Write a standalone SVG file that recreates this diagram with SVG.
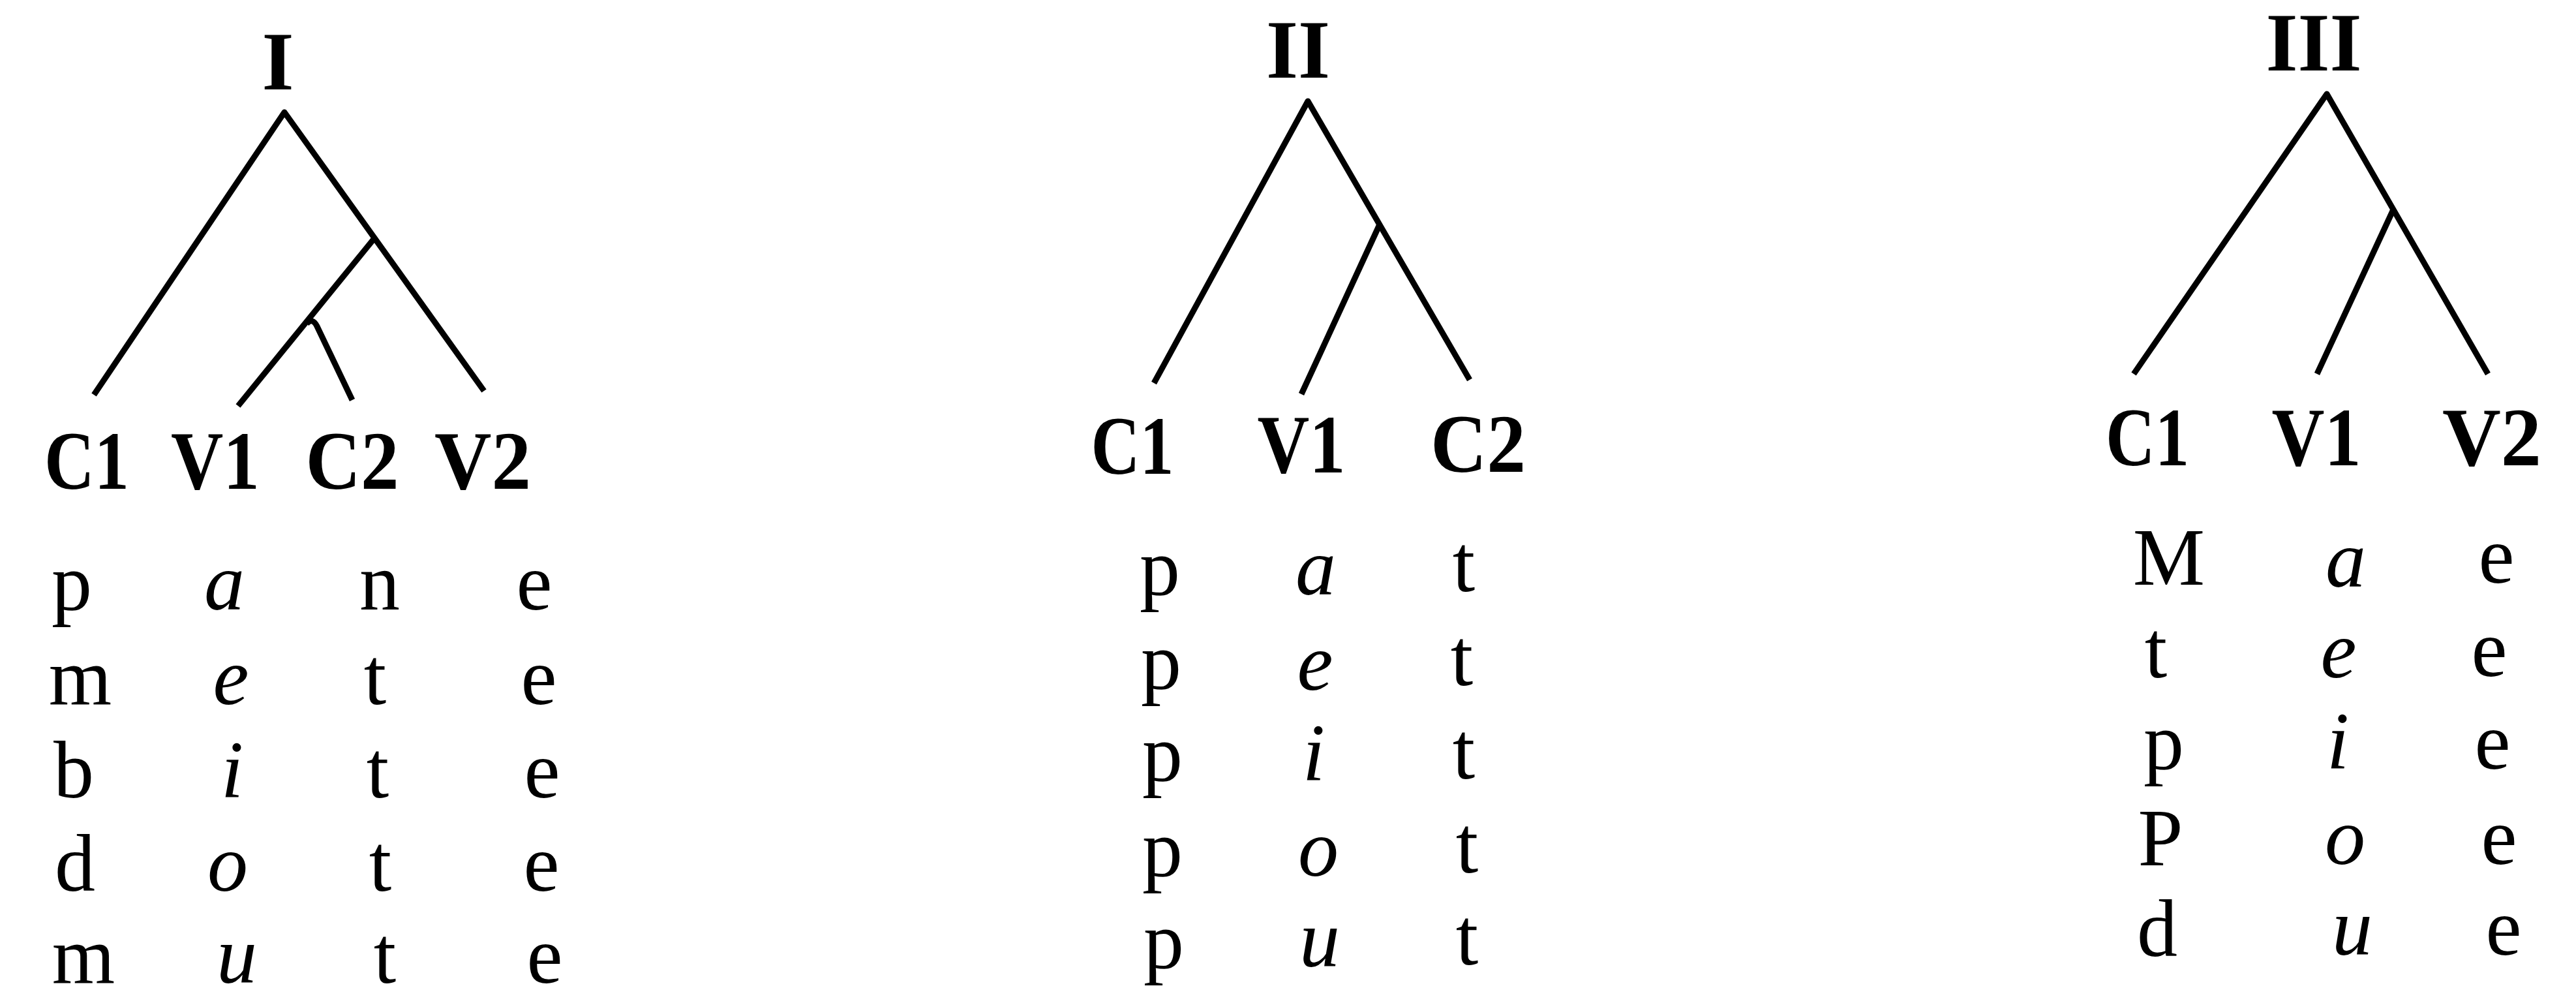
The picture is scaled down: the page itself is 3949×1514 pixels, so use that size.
<svg xmlns="http://www.w3.org/2000/svg" width="3949" height="1514" viewBox="0 0 3949 1514">
<style>
.bg{fill:#fff}
.edge{fill:none;stroke:#000;stroke-width:9;stroke-linecap:butt;stroke-linejoin:round}
.title{font-family:"Liberation Serif","Times New Roman",serif;font-weight:bold;font-size:126px;fill:#000;text-anchor:middle}
.lab{font-family:"Liberation Serif","Times New Roman",serif;font-weight:bold;font-size:128px;fill:#000;text-anchor:middle}
.seg{font-family:"Liberation Serif","Times New Roman",serif;font-size:124px;fill:#000;text-anchor:middle}
.it{font-style:italic}
</style>
<rect class="bg" x="0" y="0" width="3949" height="1514"/>

<g id="connectors">
  <!-- Tree I -->
  <path class="edge" d="M144 605 L436 172 L742 599"/>
  <path class="edge" d="M574 365 L365 622"/>
  <path class="edge" d="M470 496 Q479 486 486 500 L540 613"/>
  <!-- Tree II -->
  <path class="edge" d="M1769 587 L2005 155 L2253 582"/>
  <path class="edge" d="M2114 346 L1995 604"/>
  <!-- Tree III -->
  <path class="edge" d="M3271 573 L3567 144 L3814 573"/>
  <path class="edge" d="M3669 321 L3552 573"/>
</g>

<g id="tree-I">
  <g id="I-root"><text class="title" x="426" y="137">I</text></g>
  <g id="I-C1"><text class="lab" x="133" y="749" textLength="130" lengthAdjust="spacingAndGlyphs">C1</text></g>
  <g id="I-V1"><text class="lab" x="330" y="749" textLength="136" lengthAdjust="spacingAndGlyphs">V1</text></g>
  <g id="I-C2"><text class="lab" x="540" y="749" textLength="143" lengthAdjust="spacingAndGlyphs">C2</text></g>
  <g id="I-V2"><text class="lab" x="740" y="749" textLength="148" lengthAdjust="spacingAndGlyphs">V2</text></g>
  <g id="I-rows">
    <text class="seg" x="110" y="934">p</text><text class="seg it" x="344" y="934">a</text><text class="seg" x="582" y="934">n</text><text class="seg" x="819" y="934">e</text>
    <text class="seg" x="123" y="1079">m</text><text class="seg it" x="354" y="1079">e</text><text class="seg" x="575" y="1079">t</text><text class="seg" x="826" y="1079">e</text>
    <text class="seg" x="113" y="1222">b</text><text class="seg it" x="356" y="1222">i</text><text class="seg" x="579" y="1222">t</text><text class="seg" x="831" y="1222">e</text>
    <text class="seg" x="115" y="1365">d</text><text class="seg it" x="349" y="1365">o</text><text class="seg" x="583" y="1365">t</text><text class="seg" x="830" y="1365">e</text>
    <text class="seg" x="128" y="1506">m</text><text class="seg it" x="363" y="1506">u</text><text class="seg" x="590" y="1506">t</text><text class="seg" x="835" y="1506">e</text>
  </g>
</g>

<g id="tree-II">
  <g id="II-root"><text class="title" x="1990" y="119">II</text></g>
  <g id="II-C1"><text class="lab" x="1736" y="726" textLength="127" lengthAdjust="spacingAndGlyphs">C1</text></g>
  <g id="II-V1"><text class="lab" x="1995" y="724" textLength="135" lengthAdjust="spacingAndGlyphs">V1</text></g>
  <g id="II-C2"><text class="lab" x="2266" y="723" textLength="146" lengthAdjust="spacingAndGlyphs">C2</text></g>
  <g id="II-rows">
    <text class="seg" x="1778" y="911">p</text><text class="seg it" x="2017" y="911">a</text><text class="seg" x="2244" y="906">t</text>
    <text class="seg" x="1780" y="1055">p</text><text class="seg it" x="2016" y="1057">e</text><text class="seg" x="2241" y="1050">t</text>
    <text class="seg" x="1782" y="1196">p</text><text class="seg it" x="2014" y="1196">i</text><text class="seg" x="2244" y="1193">t</text>
    <text class="seg" x="1782" y="1342">p</text><text class="seg it" x="2021" y="1342">o</text><text class="seg" x="2249" y="1337">t</text>
    <text class="seg" x="1784" y="1483">p</text><text class="seg it" x="2023" y="1481">u</text><text class="seg" x="2249" y="1478">t</text>
  </g>
</g>

<g id="tree-III">
  <g id="III-root"><text class="title" x="3547" y="108">III</text></g>
  <g id="III-C1"><text class="lab" x="3292" y="713" textLength="128" lengthAdjust="spacingAndGlyphs">C1</text></g>
  <g id="III-V1"><text class="lab" x="3551" y="713" textLength="137" lengthAdjust="spacingAndGlyphs">V1</text></g>
  <g id="III-V2"><text class="lab" x="3820" y="713" textLength="152" lengthAdjust="spacingAndGlyphs">V2</text></g>
  <g id="III-rows">
    <text class="seg" x="3325" y="896">M</text><text class="seg it" x="3596" y="899">a</text><text class="seg" x="3827" y="893">e</text>
    <text class="seg" x="3305" y="1038">t</text><text class="seg it" x="3585" y="1038">e</text><text class="seg" x="3816" y="1036">e</text>
    <text class="seg" x="3317" y="1178">p</text><text class="seg it" x="3584" y="1178">i</text><text class="seg" x="3821" y="1178">e</text>
    <text class="seg" x="3312" y="1326">P</text><text class="seg it" x="3595" y="1324">o</text><text class="seg" x="3831" y="1324">e</text>
    <text class="seg" x="3307" y="1465">d</text><text class="seg it" x="3606" y="1463">u</text><text class="seg" x="3838" y="1463">e</text>
  </g>
</g>
</svg>
